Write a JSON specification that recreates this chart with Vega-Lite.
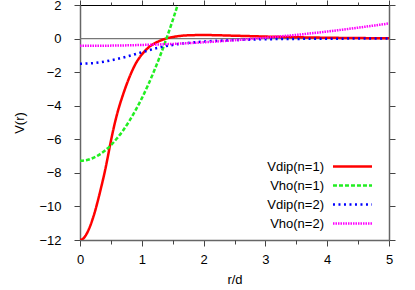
{
  "$schema": "https://vega.github.io/schema/vega-lite/v6.json",
  "width": 309,
  "height": 235,
  "autosize": {"type": "none"},
  "padding": {"left": 80, "top": 5, "right": 26, "bottom": 50},
  "background": "white",
  "datasets": {
    "zero": [{"V": 0}],
    "curves": [
      {"r": 0, "V": -12, "s": "Vdip(n=1)"},
      {"r": 0.05, "V": -11.92, "s": "Vdip(n=1)"},
      {"r": 0.1, "V": -11.68, "s": "Vdip(n=1)"},
      {"r": 0.15, "V": -11.3, "s": "Vdip(n=1)"},
      {"r": 0.2, "V": -10.8, "s": "Vdip(n=1)"},
      {"r": 0.25, "V": -10.2, "s": "Vdip(n=1)"},
      {"r": 0.3, "V": -9.5, "s": "Vdip(n=1)"},
      {"r": 0.35, "V": -8.75, "s": "Vdip(n=1)"},
      {"r": 0.4, "V": -7.95, "s": "Vdip(n=1)"},
      {"r": 0.45, "V": -7.05, "s": "Vdip(n=1)"},
      {"r": 0.5, "V": -6.1, "s": "Vdip(n=1)"},
      {"r": 0.55, "V": -5.25, "s": "Vdip(n=1)"},
      {"r": 0.6, "V": -4.5, "s": "Vdip(n=1)"},
      {"r": 0.7, "V": -3.3, "s": "Vdip(n=1)"},
      {"r": 0.8, "V": -2.3, "s": "Vdip(n=1)"},
      {"r": 0.9, "V": -1.5, "s": "Vdip(n=1)"},
      {"r": 1.0, "V": -0.95, "s": "Vdip(n=1)"},
      {"r": 1.1, "V": -0.56, "s": "Vdip(n=1)"},
      {"r": 1.2, "V": -0.3, "s": "Vdip(n=1)"},
      {"r": 1.3, "V": -0.12, "s": "Vdip(n=1)"},
      {"r": 1.4, "V": 0.01, "s": "Vdip(n=1)"},
      {"r": 1.5, "V": 0.09, "s": "Vdip(n=1)"},
      {"r": 1.6, "V": 0.15, "s": "Vdip(n=1)"},
      {"r": 1.8, "V": 0.2, "s": "Vdip(n=1)"},
      {"r": 2.0, "V": 0.21, "s": "Vdip(n=1)"},
      {"r": 2.2, "V": 0.2, "s": "Vdip(n=1)"},
      {"r": 2.4, "V": 0.18, "s": "Vdip(n=1)"},
      {"r": 2.6, "V": 0.16, "s": "Vdip(n=1)"},
      {"r": 2.8, "V": 0.14, "s": "Vdip(n=1)"},
      {"r": 3.0, "V": 0.12, "s": "Vdip(n=1)"},
      {"r": 3.25, "V": 0.1, "s": "Vdip(n=1)"},
      {"r": 3.5, "V": 0.08, "s": "Vdip(n=1)"},
      {"r": 4.0, "V": 0.05, "s": "Vdip(n=1)"},
      {"r": 4.5, "V": 0.03, "s": "Vdip(n=1)"},
      {"r": 5.0, "V": 0.02, "s": "Vdip(n=1)"},

      {"r": 0, "V": -7.28, "s": "Vho(n=1)"},
      {"r": 0.1, "V": -7.243, "s": "Vho(n=1)"},
      {"r": 0.2, "V": -7.131, "s": "Vho(n=1)"},
      {"r": 0.3, "V": -6.945, "s": "Vho(n=1)"},
      {"r": 0.4, "V": -6.685, "s": "Vho(n=1)"},
      {"r": 0.5, "V": -6.35, "s": "Vho(n=1)"},
      {"r": 0.6, "V": -5.941, "s": "Vho(n=1)"},
      {"r": 0.7, "V": -5.457, "s": "Vho(n=1)"},
      {"r": 0.8, "V": -4.899, "s": "Vho(n=1)"},
      {"r": 0.9, "V": -4.267, "s": "Vho(n=1)"},
      {"r": 1.0, "V": -3.56, "s": "Vho(n=1)"},
      {"r": 1.1, "V": -2.779, "s": "Vho(n=1)"},
      {"r": 1.2, "V": -1.923, "s": "Vho(n=1)"},
      {"r": 1.3, "V": -0.993, "s": "Vho(n=1)"},
      {"r": 1.4, "V": 0.011, "s": "Vho(n=1)"},
      {"r": 1.5, "V": 1.09, "s": "Vho(n=1)"},
      {"r": 1.6, "V": 2.243, "s": "Vho(n=1)"},
      {"r": 1.7, "V": 3.47, "s": "Vho(n=1)"},

      {"r": 0, "V": -1.5, "s": "Vdip(n=2)"},
      {"r": 0.25, "V": -1.45, "s": "Vdip(n=2)"},
      {"r": 0.5, "V": -1.3, "s": "Vdip(n=2)"},
      {"r": 0.75, "V": -1.08, "s": "Vdip(n=2)"},
      {"r": 1.0, "V": -0.82, "s": "Vdip(n=2)"},
      {"r": 1.25, "V": -0.56, "s": "Vdip(n=2)"},
      {"r": 1.5, "V": -0.38, "s": "Vdip(n=2)"},
      {"r": 1.75, "V": -0.26, "s": "Vdip(n=2)"},
      {"r": 2.0, "V": -0.18, "s": "Vdip(n=2)"},
      {"r": 2.5, "V": -0.09, "s": "Vdip(n=2)"},
      {"r": 3.0, "V": -0.04, "s": "Vdip(n=2)"},
      {"r": 3.5, "V": -0.02, "s": "Vdip(n=2)"},
      {"r": 4.0, "V": -0.01, "s": "Vdip(n=2)"},
      {"r": 4.5, "V": 0, "s": "Vdip(n=2)"},
      {"r": 5.0, "V": 0, "s": "Vdip(n=2)"},

      {"r": 0, "V": -0.43, "s": "Vho(n=2)"},
      {"r": 0.5, "V": -0.42, "s": "Vho(n=2)"},
      {"r": 1.0, "V": -0.38, "s": "Vho(n=2)"},
      {"r": 1.5, "V": -0.32, "s": "Vho(n=2)"},
      {"r": 2.0, "V": -0.22, "s": "Vho(n=2)"},
      {"r": 2.5, "V": -0.1, "s": "Vho(n=2)"},
      {"r": 3.0, "V": 0.05, "s": "Vho(n=2)"},
      {"r": 3.5, "V": 0.22, "s": "Vho(n=2)"},
      {"r": 4.0, "V": 0.42, "s": "Vho(n=2)"},
      {"r": 4.5, "V": 0.65, "s": "Vho(n=2)"},
      {"r": 5.0, "V": 0.9, "s": "Vho(n=2)"}
    ]
  },
  "layer": [
    {
      "data": {"name": "zero"},
      "mark": {"type": "rule", "color": "#777777", "strokeWidth": 1.2},
      "encoding": {
        "y": {"field": "V", "type": "quantitative", "scale": {"domain": [-12, 2], "nice": false}, "axis": null}
      }
    },
    {
      "data": {"name": "curves"},
      "mark": {"type": "line", "clip": true, "strokeWidth": 2.5, "interpolate": "monotone"},
      "encoding": {
        "x": {"field": "r", "type": "quantitative", "scale": {"domain": [0, 5], "nice": false, "zero": false},
          "axis": {"orient": "bottom", "values": [0, 1, 2, 3, 4, 5], "tickSize": 6, "labelPadding": 7, "title": "r/d", "titlePadding": 7, "labelFlush": false, "labelOverlap": false, "domainColor": "#666666", "domainWidth": 1.5}},
        "y": {"field": "V", "type": "quantitative", "scale": {"domain": [-12, 2], "nice": false},
          "axis": {"orient": "left", "values": [-12, -10, -8, -6, -4, -2, 0, 2], "tickSize": 6, "labelPadding": 13, "title": "V(r)", "titlePadding": 12, "labelFlush": false, "labelOverlap": false, "domainColor": "#666666", "domainWidth": 1.5}},
        "color": {"field": "s", "type": "nominal",
          "scale": {"domain": ["Vdip(n=1)", "Vho(n=1)", "Vdip(n=2)", "Vho(n=2)"], "range": ["#ff0000", "#22ee22", "#0000ff", "#ff00ff"]},
          "legend": {"title": null, "orient": "none", "legendX": 266, "legendY": 155, "padding": 0, "rowPadding": 5, "labelAlign": "right", "labelOffset": -35, "labelLimit": 200, "symbolType": "M-5,0H5", "symbolSize": 61, "symbolStrokeWidth": 2.5, "labelFontSize": 13, "labelFont": "Liberation Sans", "labelColor": "#000000"}},
        "strokeDash": {"field": "s", "type": "nominal",
          "scale": {"domain": ["Vdip(n=1)", "Vho(n=1)", "Vdip(n=2)", "Vho(n=2)"], "range": [[1, 0], [4, 2], [2, 3.5], [1.5, 1]]},
          "legend": {"title": null, "orient": "none", "legendX": 266, "legendY": 155, "padding": 0, "rowPadding": 5, "labelAlign": "right", "labelOffset": -35, "labelLimit": 200, "symbolType": "M-5,0H5", "symbolSize": 61, "symbolStrokeWidth": 2.5, "labelFontSize": 13, "labelFont": "Liberation Sans", "labelColor": "#000000"}}
      }
    },
    {
      "data": {"name": "curves"},
      "mark": {"type": "point", "opacity": 0},
      "encoding": {
        "x": {"field": "r", "type": "quantitative", "scale": {"domain": [0, 5], "nice": false, "zero": false},
          "axis": {"orient": "top", "values": [0, 1, 2, 3, 4, 5], "tickSize": 5, "labels": false, "title": null, "domainColor": "#000000", "domainWidth": 1}},
        "y": {"field": "V", "type": "quantitative", "scale": {"domain": [-12, 2], "nice": false},
          "axis": {"orient": "right", "values": [-12, -10, -8, -6, -4, -2, 0, 2], "tickSize": 6, "labels": false, "title": null, "domainColor": "#666666", "domainWidth": 1.5}}
      }
    },
    {
      "data": {"name": "curves"},
      "mark": {"type": "point", "opacity": 0},
      "encoding": {
        "x": {"field": "r", "type": "quantitative", "scale": {"domain": [0, 5], "nice": false, "zero": false},
          "axis": {"orient": "bottom", "values": [0.5, 1.5, 2.5, 3.5, 4.5], "tickSize": 4, "labels": false, "title": null, "domain": false}},
        "y": {"field": "V", "type": "quantitative", "scale": {"domain": [-12, 2], "nice": false}, "axis": null}
      }
    },
    {
      "data": {"name": "curves"},
      "mark": {"type": "point", "opacity": 0},
      "encoding": {
        "x": {"field": "r", "type": "quantitative", "scale": {"domain": [0, 5], "nice": false, "zero": false},
          "axis": {"orient": "top", "values": [0.5, 1.5, 2.5, 3.5, 4.5], "tickSize": 3, "labels": false, "title": null, "domain": false}},
        "y": {"field": "V", "type": "quantitative", "scale": {"domain": [-12, 2], "nice": false}, "axis": null}
      }
    }
  ],
  "config": {
    "view": {"stroke": null},
    "axis": {
      "grid": false,
      "labelFont": "Liberation Sans",
      "labelFontSize": 13,
      "labelColor": "#000000",
      "titleFont": "Liberation Sans",
      "titleFontSize": 13,
      "titleFontWeight": "normal",
      "titleColor": "#000000",
      "tickColor": "#444444",
      "tickWidth": 1
    }
  }
}
